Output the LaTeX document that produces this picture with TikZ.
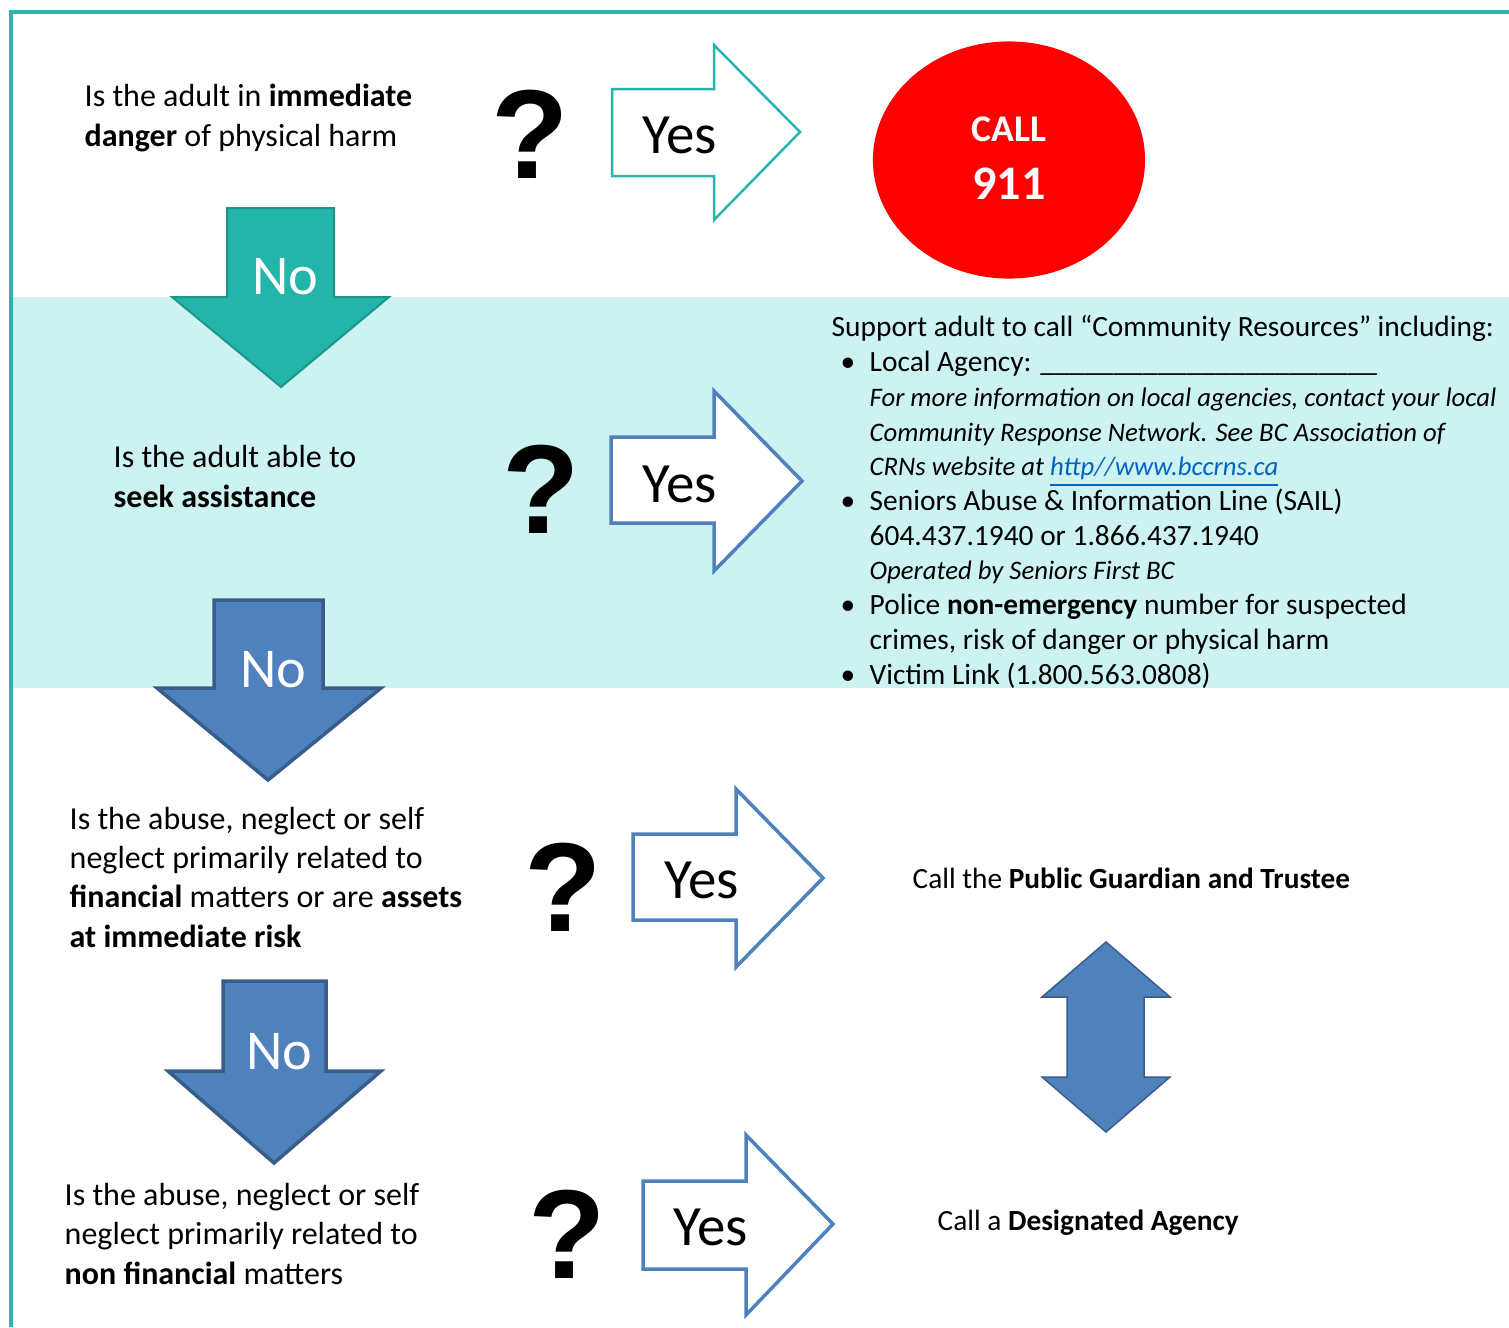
\documentclass[tikz,border=0pt]{standalone}
\usepackage{fontspec}
\setmainfont{Carlito}
\newfontfamily\qmarkfont{Liberation Sans}
\usepackage{xcolor}
\usetikzlibrary{calc,shapes.geometric}
\definecolor{frameteal}{RGB}{43,180,170}
\definecolor{bandcyan}{RGB}{204,243,241}
\definecolor{tealfill}{RGB}{35,181,170}
\definecolor{tealedge}{RGB}{28,150,141}
\definecolor{bluefill}{RGB}{79,129,189}
\definecolor{blueedge}{RGB}{56,93,138}
\definecolor{linkblue}{RGB}{5,99,193}
\newcommand{\bul}{\hspace*{0.09cm}\makebox[0.29cm][l]{\textbullet}}
\newcommand{\ind}{\hspace*{0.38cm}}
\newcommand{\infoline}[1]{{\fontsize{7.6}{9.87}\selectfont\itshape #1}}

\begin{document}
\begin{tikzpicture}[x=0.01cm, y=-0.01cm,
        question/.style={font=\fontsize{9.1}{11.1}\selectfont, align=left, anchor=base west, inner sep=0},
        qmark/.style={font=\qmarkfont\bfseries\fontsize{36}{36}\selectfont, inner sep=0},
        yes/.style={font=\fontsize{16.2}{16.2}\selectfont, inner sep=0},
        no/.style={font=\fontsize{16}{16}\selectfont, text=white, inner sep=0},
        answer/.style={font=\fontsize{8.33}{9}\selectfont, anchor=west, inner sep=0},
        yesteal/.style={draw=frameteal, fill=white, line width=0.025cm},
        yesblue/.style={draw=bluefill, fill=white, line width=0.035cm},
        noblue/.style={draw=blueedge, fill=bluefill, line width=0.035cm}]
    \useasboundingbox (0,0) rectangle (1509,1327);
    \fill[bandcyan] (13,297) rectangle (1509,688);
    \draw[frameteal, line width=0.03cm] (1509,12) -- (11,12) -- (11,1327);

    % first question
    \node[question] (danger) at (84,146) {Is the adult in \textbf{immediate}\\\textbf{danger} of physical harm};
    \node[qmark] (q1) at (530,134) {?};
    \draw[yesteal] (612,89) -- (714,89) -- (714,45) -- (800,132) -- (714,220) -- (714,176) -- (612,176) -- cycle;
    \node[yes] (yes1) at (680,135) {Yes};
    \node[ellipse, fill=red, minimum width=2.72cm, minimum height=2.37cm, inner sep=0] (call) at (1009,160) {};
    \node[font=\bfseries\fontsize{10.7}{10.7}\selectfont, text=white, inner sep=0] (callword) at (1009,129) {CALL};
    \node[font=\bfseries\fontsize{13.7}{13.7}\selectfont, text=white, inner sep=0] (callnum) at (1009,184) {911};
    \draw[draw=tealedge, fill=tealfill, line width=0.02cm] (227,208) -- (334,208) -- (334,297) -- (389,297) -- (281,387) -- (172,297) -- (227,297) -- cycle;
    \node[no] (no1) at (285,277) {No};

    % second question
    \node[question] (seek) at (113,507) {Is the adult able to\\\textbf{seek assistance}};
    \node[qmark] (q2) at (541,489) {?};
    \draw[yesblue] (611,437) -- (714,437) -- (714,391) -- (802,481) -- (714,571) -- (714,523) -- (611,523) -- cycle;
    \node[yes] (yes2) at (680,484) {Yes};
    \begin{scope}
        \clip (13,297) rectangle (1509,688);
        \node[anchor=base west, align=left, inner sep=0, font=\fontsize{8.36}{9.87}\selectfont] (resources) at (831,684) {Support adult to call “Community Resources” including:\\
            \bul Local Agency: \_\_\_\_\_\_\_\_\_\_\_\_\_\_\_\_\_\_\_\_\_\_\_\\
            \ind\infoline{For more information on local agencies, contact your local}\\
            \ind\infoline{Community Response Network. See BC Association of}\\
            \ind\infoline{CRNs website at \textcolor{linkblue}{\underline{http//www.bccrns.ca}}}\\
            \bul Seniors Abuse \& Information Line (SAIL)\\
            \ind 604.437.1940 or 1.866.437.1940\\
            \ind\infoline{Operated by Seniors First BC}\\
            \bul Police \textbf{non-emergency} number for suspected\\
            \ind crimes, risk of danger or physical harm\\
            \bul Victim Link (1.800.563.0808)};
    \end{scope}
    \draw[noblue] (214,600) -- (323,600) -- (323,688) -- (381,688) -- (268,780) -- (157,688) -- (214,688) -- cycle;
    \node[no] (no2) at (273,670) {No};

    % third question
    \node[question] (financial) at (69,947) {Is the abuse, neglect or self\\neglect primarily related to\\\textbf{financial} matters or are \textbf{assets}\\\textbf{at immediate risk}};
    \node[qmark] (q3) at (563,887) {?};
    \draw[yesblue] (633,834) -- (736,834) -- (736,789) -- (823,878) -- (736,967) -- (736,920) -- (633,920) -- cycle;
    \node[yes] (yes3) at (702,880) {Yes};
    \node[answer] (pgt) at (912,878) {Call the \textbf{Public Guardian and Trustee}};
    \draw[noblue, line width=0.015cm] (1106,942) -- (1170,997) -- (1144,997) -- (1144,1077) -- (1170,1077) -- (1106,1132) -- (1042,1077) -- (1067,1077) -- (1067,997) -- (1042,997) -- cycle;
    \draw[noblue] (223,981) -- (326,981) -- (326,1071) -- (381,1071) -- (274,1163) -- (168,1071) -- (223,1071) -- cycle;
    \node[no] (no3) at (279,1052) {No};

    % fourth question
    \node[question] (nonfinancial) at (64,1284) {Is the abuse, neglect or self\\neglect primarily related to\\\textbf{non financial} matters};
    \node[qmark] (q4) at (567,1234) {?};
    \draw[yesblue] (643,1181) -- (746,1181) -- (746,1135) -- (833,1224) -- (746,1315) -- (746,1269) -- (643,1269) -- cycle;
    \node[yes] (yes4) at (711,1227) {Yes};
    \node[answer] (agency) at (937,1223) {Call a \textbf{Designated Agency}};
\end{tikzpicture}
\end{document}
